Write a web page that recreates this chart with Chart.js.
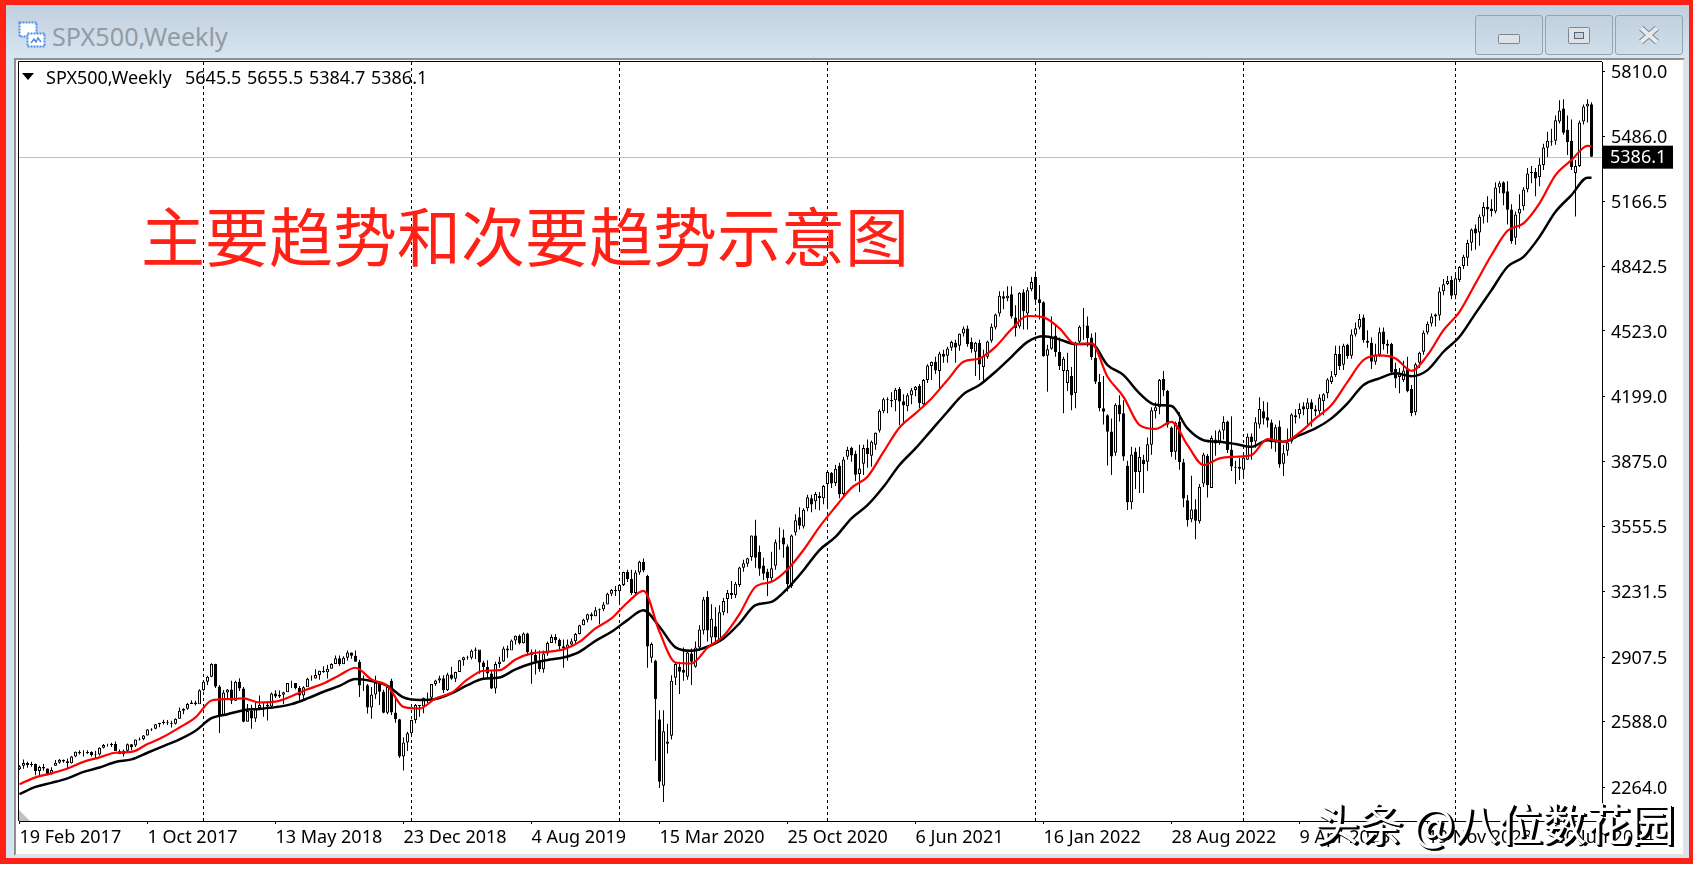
<!DOCTYPE html>
<html>
<head>
<meta charset="utf-8">
<title>SPX500,Weekly</title>
<script src="https://cdn.jsdelivr.net/npm/chart.js@4/dist/chart.umd.js"></script>
<style>
html, body { margin: 0; padding: 0; background: #fff; overflow: hidden; }
#page { position: relative; width: 1697px; height: 871px; overflow: hidden; background: #fff; }
#page div, #page span, #page svg, #page canvas { position: absolute; }
#redframe { left: 0; top: 0; width: 1683px; height: 853px; border: solid #ff2116; border-width: 5px 4px 6px 6px; background: #d6e4f1; }
#titlebar { left: 6px; top: 5px; width: 1683px; height: 54px; background: linear-gradient(#c1cfde, #d8e5f2); }
#client { left: 14px; top: 58px; width: 1667px; height: 794px; background: #fff; border: solid; border-color: #8f8f8f #e2e2e2 #e2e2e2 #8f8f8f; border-width: 2px 2px 2px 2px; }
.btn { top: 15px; width: 66px; height: 38px; border: 1px solid #93a4b6; border-radius: 3px; background: linear-gradient(#c3d1df, #d0deeb); }
#wintitle { left: 52px; top: 19px; font: 25.2px "Noto Sans", sans-serif; color: #939ba3; white-space: nowrap; }
.mt { font: 18px "Noto Sans", sans-serif; color: #000; white-space: nowrap; top: 65px; }
#tri { left: 22px; top: 73px; width: 0; height: 0; border-left: 6px solid transparent; border-right: 6px solid transparent; border-top: 7px solid #000; }
#heading { left: 141px; top: 187px; font: 64px "Noto Sans CJK SC", sans-serif; color: #ff2116; white-space: nowrap; }
#mark { left: 1315px; top: 790px; font: 44px "Noto Sans CJK SC", sans-serif; color: #fff; white-space: nowrap; text-shadow: 1px 1px 0 #000, 2px 2px 0 #000, 3px 2px 0 #000; }
#corner { left: 19px; top: 810px; width: 11px; height: 11px; background: #c0c0c0; clip-path: polygon(0 0, 100% 100%, 0 100%); }
</style>
</head>
<body>
<div id="page">
  <div id="redframe"></div>
  <div id="titlebar"></div>
  <svg style="left:18px;top:21px" width="29" height="28">
    <rect x="1.5" y="1.5" width="17" height="14" fill="#fff" stroke="#4f8fe8" stroke-width="2" stroke-dasharray="2 1"/>
    <rect x="9.5" y="12.5" width="17" height="13" fill="#fff" stroke="#4f8fe8" stroke-width="2" stroke-dasharray="2 1"/>
    <path d="M13 22 l3 -4 l2 3 l2 -4 l3 4" fill="none" stroke="#4f8fe8" stroke-width="1.5"/>
  </svg>
  <div id="wintitle">SPX500,Weekly</div>
  <div class="btn" style="left:1475px"></div>
  <div class="btn" style="left:1545px"></div>
  <div class="btn" style="left:1615px"></div>
  <svg style="left:1497px;top:33px" width="24" height="12"><rect x="1.5" y="1.5" width="21" height="9" rx="1" fill="#dfe3e8" stroke="#7d8792"/></svg>
  <svg style="left:1567px;top:26px" width="24" height="19"><rect x="1.5" y="1.5" width="21" height="16" rx="1" fill="#dfe3e8" stroke="#7d8792"/><rect x="7.5" y="6.5" width="9" height="6" fill="#c5d3e1" stroke="#5d6772"/></svg>
  <svg style="left:1637px;top:25px" width="24" height="20"><path d="M4 3 L20 17 M20 3 L4 17" stroke="#7d8792" stroke-width="6"/><path d="M4 3 L20 17 M20 3 L4 17" stroke="#e6e9ee" stroke-width="4"/></svg>
  <div id="client"></div>
  <div id="corner"></div>
  <canvas id="price_graph" width="1697" height="871" style="left:0;top:0;width:1697px;height:871px"></canvas>
  <div id="tri"></div>
  <div class="mt" style="left:46px">SPX500,Weekly</div>
  <div class="mt" style="left:185px;word-spacing:1px">5645.5 5655.5 5384.7 5386.1</div>
  <div id="heading">主要趋势和次要趋势示意图</div>
  <div id="mark">头条 @八位数花园</div>
</div>
<script>
// weekly candles, bar 0 is the week of 19 Feb 2017
const opens = [
  2352,2370,2383,2373,2378,2344,2363,2356,2330,2370,
  2384,2399,2392,2382,2416,2439,2432,2433,2438,2423,
  2425,2459,2473,2472,2477,2441,2426,2444,2476,2470,
  2500,2502,2519,2549,2553,2575,2581,2588,2582,2578,
  2602,2642,2652,2675,2683,2674,2743,2786,2810,2873,
  2762,2620,2732,2747,2691,2786,2752,2588,2641,2604,
  2656,2670,2670,2663,2728,2713,2721,2734,2779,2780,
  2755,2718,2759,2801,2802,2819,2840,2833,2850,2874,
  2902,2872,2905,2930,2914,2885,2767,2768,2658,2723,
  2781,2736,2632,2790,2633,2600,2416,2485,2531,2596,
  2670,2664,2706,2707,2775,2792,2803,2743,2822,2800,
  2834,2892,2907,2905,2939,2945,2881,2859,2826,2752,
  2873,2886,2950,2941,2990,3013,2976,3025,2932,2918,
  2888,2847,2926,2978,3007,2992,2961,2952,2970,2986,
  3022,3066,3093,3120,3110,3140,3145,3168,3221,3240,
  3234,3265,3329,3295,3225,3327,3380,3310,2905,2890,
  2600,2270,2478,2518,2805,2860,2845,2810,2925,2860,
  2955,3040,3205,3005,3060,2990,3130,3195,3225,3215,
  3265,3350,3370,3403,3510,3430,3362,3330,3298,3360,
  3480,3500,3456,3260,3525,3600,3555,3645,3695,3680,
  3705,3695,3765,3820,3770,3855,3715,3900,3945,3915,
  3815,3865,3945,3905,3960,4030,4125,4185,4175,4180,
  4235,4175,4150,4205,4230,4250,4160,4280,4350,4370,
  4325,4410,4400,4440,4465,4450,4510,4535,4470,4420,
  4465,4345,4395,4475,4540,4610,4695,4685,4705,4590,
  4545,4715,4610,4730,4790,4680,4665,4400,4435,4500,
  4420,4325,4265,4300,4215,4470,4550,4550,4490,4390,
  4270,4140,4105,4025,3920,4158,4115,3855,3675,3925,
  3825,3885,3875,3960,4125,4145,4285,4225,4045,3925,
  4075,3873,3685,3590,3640,3580,3768,3905,3745,3985,
  3975,4030,4075,3935,3850,3850,3835,3885,4000,3975,
  4060,4125,4095,4070,3970,4050,3865,3930,3975,4095,
  4110,4150,4135,4170,4135,4125,4175,4215,4270,4305,
  4410,4355,4455,4400,4505,4540,4590,4475,4465,4370,
  4405,4520,4460,4460,4335,4295,4280,4335,4235,4120,
  4365,4420,4515,4560,4595,4600,4720,4755,4775,4700,
  4775,4845,4885,4960,5030,5010,5090,5137,5130,5115,
  5235,5260,5215,5125,4985,5105,5140,5225,5310,5310,
  5285,5345,5430,5465,5465,5560,5625,5520,5465,5305,
  5340,5560,5635,5645.5
];
const highs = [
  2372,2401,2390,2390,2381,2370,2378,2356,2362,2398,
  2403,2400,2405,2418,2440,2447,2447,2447,2442,2444,
  2461,2477,2478,2484,2490,2450,2450,2480,2477,2500,
  2509,2522,2552,2555,2576,2582,2597,2596,2593,2605,
  2658,2655,2680,2694,2692,2748,2790,2815,2877,2875,
  2770,2745,2750,2790,2790,2803,2760,2675,2672,2680,
  2717,2683,2680,2732,2743,2742,2736,2779,2790,2775,
  2764,2763,2805,2816,2848,2840,2863,2870,2877,2916,
  2916,2912,2940,2931,2940,2895,2817,2775,2760,2815,
  2775,2746,2760,2800,2708,2602,2510,2538,2597,2675,
  2670,2708,2732,2775,2795,2815,2818,2830,2860,2835,
  2895,2910,2915,2945,2955,2930,2890,2892,2840,2885,
  2910,2960,2965,2995,3015,3020,3030,3028,2945,2945,
  2940,2940,2985,3020,3022,3000,2995,2995,3000,3027,
  3068,3098,3122,3128,3156,3148,3180,3226,3245,3260,
  3268,3330,3340,3340,3338,3385,3396,3315,2980,2895,
  2645,2645,2578,2818,2880,2885,2955,2935,2950,2985,
  3065,3205,3235,3170,3155,3165,3200,3240,3285,3280,
  3355,3390,3400,3510,3588,3460,3400,3345,3430,3490,
  3550,3540,3465,3515,3615,3650,3645,3712,3712,3726,
  3725,3760,3825,3825,3860,3870,3900,3950,3950,3930,
  3960,3960,3985,3980,4020,4135,4192,4195,4220,4240,
  4245,4210,4215,4240,4250,4260,4285,4358,4372,4395,
  4420,4430,4445,4475,4480,4510,4545,4550,4490,4470,
  4480,4430,4475,4560,4610,4720,4720,4745,4745,4650,
  4715,4730,4740,4790,4818,4750,4670,4455,4595,4555,
  4490,4395,4415,4345,4470,4550,4637,4595,4510,4515,
  4310,4300,4110,4090,4165,4205,4180,3880,3950,3945,
  3950,3910,3995,4145,4170,4285,4325,4230,4050,4075,
  4120,3890,3710,3806,3690,3765,3920,3913,4005,4030,
  4035,4100,4078,4100,3880,3895,3910,4015,4015,4095,
  4195,4175,4170,4085,4060,4080,3960,4040,4115,4135,
  4165,4170,4190,4185,4155,4210,4215,4290,4325,4450,
  4450,4460,4460,4530,4565,4607,4605,4527,4490,4460,
  4540,4540,4480,4465,4365,4340,4375,4395,4255,4365,
  4420,4525,4570,4610,4610,4740,4780,4795,4795,4800,
  4845,4900,4975,5030,5050,5100,5160,5190,5175,5260,
  5265,5265,5265,5150,5115,5200,5235,5330,5340,5330,
  5380,5450,5510,5525,5590,5665,5670,5590,5570,5370,
  5565,5645,5670,5655.5
];
const lows = [
  2348,2355,2360,2365,2322,2322,2345,2322,2325,2370,
  2380,2385,2352,2381,2412,2425,2415,2428,2415,2408,
  2420,2455,2465,2462,2470,2430,2416,2441,2446,2462,
  2495,2496,2520,2542,2550,2560,2574,2572,2559,2574,
  2602,2625,2647,2675,2668,2680,2738,2770,2808,2755,
  2532,2620,2700,2675,2690,2740,2585,2590,2553,2586,
  2650,2612,2594,2655,2705,2705,2675,2735,2755,2748,
  2691,2698,2770,2790,2800,2795,2830,2802,2853,2880,
  2864,2874,2890,2900,2885,2710,2740,2628,2603,2700,
  2670,2630,2625,2621,2583,2408,2346,2443,2525,2580,
  2612,2630,2680,2700,2765,2780,2730,2740,2795,2785,
  2838,2865,2895,2896,2898,2825,2800,2805,2750,2728,
  2855,2885,2905,2950,2970,2970,2975,2915,2776,2822,
  2835,2830,2915,2980,2975,2940,2855,2890,2960,2978,
  3020,3066,3080,3090,3110,3070,3135,3170,3210,3210,
  3180,3260,3280,3215,3215,3315,3328,2855,2880,2395,
  2260,2190,2430,2500,2770,2725,2790,2795,2770,2855,
  2940,3020,2985,2965,2980,2985,3115,3125,3195,3200,
  3255,3330,3355,3385,3350,3310,3290,3210,3280,3340,
  3440,3400,3233,3250,3510,3540,3545,3630,3625,3640,
  3635,3665,3650,3745,3755,3695,3705,3885,3875,3780,
  3725,3810,3845,3850,3935,4020,4115,4115,4145,4125,
  4056,4060,4125,4160,4200,4140,4155,4265,4280,4310,
  4235,4365,4365,4425,4365,4425,4495,4445,4415,4300,
  4280,4275,4385,4465,4530,4595,4630,4670,4585,4495,
  4535,4530,4530,4720,4660,4580,4395,4222,4430,4395,
  4330,4115,4225,4130,4140,4455,4480,4445,4380,4260,
  4125,4060,3857,3810,3905,4075,3880,3636,3640,3740,
  3720,3721,3830,3910,4090,4110,4200,4045,3900,3885,
  3835,3650,3555,3575,3491,3570,3750,3698,3745,3905,
  3960,3985,3918,3830,3765,3785,3795,3885,3885,3945,
  4040,4060,4045,3940,3925,3845,3805,3905,3965,4065,
  4090,4105,4060,4050,4100,4100,4105,4190,4260,4295,
  4330,4330,4385,4385,4495,4530,4465,4440,4335,4355,
  4395,4430,4410,4305,4240,4215,4270,4220,4100,4105,
  4340,4405,4505,4545,4545,4575,4700,4750,4680,4680,
  4765,4830,4845,4920,4925,4945,5055,5060,5090,5105,
  5205,5145,5050,4955,4950,5030,5120,5210,5255,5190,
  5240,5320,5385,5440,5445,5550,5495,5395,5320,5090,
  5335,5545,5555,5384.7
];
const closes = [
  2367,2383,2372,2378,2344,2363,2356,2329,2349,2384,
  2399,2391,2382,2416,2439,2432,2433,2438,2423,2425,
  2459,2473,2472,2477,2441,2426,2444,2476,2461,2500,
  2502,2519,2549,2553,2575,2581,2588,2582,2578,2602,
  2642,2652,2675,2683,2674,2743,2786,2810,2873,2762,
  2620,2732,2747,2691,2786,2752,2588,2641,2604,2656,
  2670,2670,2663,2728,2713,2721,2734,2779,2780,2755,
  2718,2759,2801,2802,2819,2840,2833,2850,2874,2902,
  2872,2905,2930,2914,2885,2767,2768,2658,2723,2781,
  2736,2632,2760,2633,2600,2416,2485,2531,2596,2670,
  2664,2706,2707,2775,2792,2803,2743,2822,2800,2834,
  2892,2907,2905,2939,2945,2881,2859,2826,2752,2873,
  2886,2950,2941,2990,3013,2976,3025,2932,2918,2888,
  2847,2926,2978,3007,2992,2961,2952,2970,2986,3022,
  3066,3093,3120,3110,3140,3145,3168,3221,3240,3234,
  3265,3329,3295,3225,3327,3380,3337,2960,2972,2700,
  2290,2540,2490,2790,2873,2835,2830,2930,2885,2955,
  3044,3193,3040,3098,3005,3130,3185,3225,3215,3271,
  3351,3373,3397,3510,3400,3345,3320,3298,3348,3477,
  3484,3465,3270,3510,3585,3558,3638,3699,3663,3715,
  3695,3755,3824,3768,3841,3714,3886,3934,3906,3811,
  3842,3943,3913,3974,4019,4128,4185,4180,4181,4232,
  4173,4155,4204,4229,4247,4166,4280,4352,4369,4327,
  4411,4395,4436,4468,4441,4509,4535,4458,4432,4465,
  4357,4400,4471,4544,4605,4697,4682,4697,4594,4538,
  4712,4620,4725,4766,4677,4662,4398,4432,4490,4419,
  4349,4385,4329,4204,4463,4544,4546,4488,4393,4272,
  4140,4123,4024,3901,4158,4110,3901,3675,3911,3825,
  3899,3863,3962,4130,4145,4280,4228,4058,3924,4067,
  3873,3693,3586,3639,3583,3752,3911,3760,3993,3965,
  4026,4072,3934,3852,3845,3840,3895,3999,3972,4071,
  4136,4090,4079,3970,4046,3862,3917,3971,4109,4105,
  4137,4134,4169,4136,4124,4192,4210,4282,4299,4409,
  4348,4450,4399,4505,4536,4582,4478,4464,4370,4406,
  4516,4457,4450,4320,4288,4309,4327,4224,4117,4358,
  4415,4514,4559,4595,4604,4719,4754,4770,4697,4784,
  4840,4891,4958,5026,5006,5089,5137,5124,5117,5234,
  5254,5204,5123,4967,5100,5128,5223,5303,5305,5278,
  5347,5431,5465,5460,5567,5615,5505,5459,5335,5340,
  5555,5635,5648,5386.1
];

// moving averages, one reading every 4th bar and the last bar
const redBars = [
  0,4,8,12,16,20,24,28,32,36,40,44,48,52,56,60,64,68,72,76,
  80,84,88,92,96,100,104,108,112,116,120,124,128,132,136,140,144,148,152,156,
  160,164,168,172,176,180,184,188,192,196,200,204,208,212,216,220,224,228,232,236,
  240,244,248,252,256,260,264,268,272,276,280,284,288,292,296,300,304,308,312,316,
  320,324,328,332,336,340,344,348,352,356,360,364,368,372,376,380,384,388,392,393
];
const redLine = [
  2278,2312,2332,2356,2389,2411,2434,2438,2477,2513,
  2559,2609,2693,2700,2703,2683,2687,2714,2748,2777,
  2818,2855,2797,2765,2661,2653,2703,2731,2797,2840,
  2843,2896,2926,2934,2946,2983,3050,3099,3178,3236,
  3033,2881,2876,2954,3012,3121,3256,3281,3342,3438,
  3553,3652,3746,3801,3924,4045,4115,4189,4280,4370,
  4387,4444,4532,4597,4590,4536,4458,4461,4296,4197,
  4057,4038,4073,3958,3859,3892,3900,3908,3987,3974,
  4019,4090,4156,4271,4379,4402,4387,4326,4403,4527,
  4618,4758,4899,5019,5056,5155,5295,5369,5440,5438
];
const blackLine = [
  2229,2265,2285,2307,2339,2361,2388,2401,2434,2467,
  2500,2543,2605,2625,2645,2651,2660,2675,2703,2736,
  2765,2799,2789,2765,2708,2695,2700,2728,2769,2800,
  2807,2847,2876,2893,2906,2934,2988,3033,3091,3140,
  3058,2956,2939,2959,3000,3075,3165,3181,3248,3338,
  3438,3503,3595,3660,3751,3859,3941,4032,4123,4210,
  4255,4321,4395,4469,4497,4481,4458,4458,4354,4304,
  4214,4157,4151,4040,3982,3974,3963,3949,3982,3974,
  4007,4040,4090,4164,4255,4288,4313,4299,4329,4420,
  4494,4610,4725,4841,4890,4989,5113,5196,5282,5282
];

const xTickBars = [0,32,64,96,128,160,192,224,256,288,320,352,384];
const xTickLabels = ['19 Feb 2017','1 Oct 2017','13 May 2018','23 Dec 2018','4 Aug 2019','15 Mar 2020','25 Oct 2020','6 Jun 2021','16 Jan 2022','28 Aug 2022','9 Apr 2023','19 Nov 2023','30 Jun 2024'];
const yTicks = [5810.0,5486.0,5166.5,4842.5,4523.0,4199.0,3875.0,3555.5,3231.5,2907.5,2588.0,2264.0];
const separatorBars = [46,98,150,202,254,306,359];
const lastPrice = 5386.1;

const tickFont = { family: '"Noto Sans", sans-serif', size: 18 };

// dashed period separators go under the candles
const separators = {
    id: 'separators',
    beforeDatasetsDraw(chart) {
        const c = chart.ctx, a = chart.chartArea, x = chart.scales.x;
        c.save();
        c.strokeStyle = '#000';
        c.lineWidth = 1;
        c.setLineDash([3, 3]);
        separatorBars.forEach(b => {
            c.beginPath();
            c.moveTo(x.getPixelForValue(b), a.top);
            c.lineTo(x.getPixelForValue(b), a.bottom);
            c.stroke();
        });
        c.setLineDash([]);
        c.strokeStyle = '#c0c0c0';
        const y = Math.round(chart.scales.y.getPixelForValue(lastPrice)) + 0.5;
        c.beginPath();
        c.moveTo(a.left, y);
        c.lineTo(a.right, y);
        c.stroke();
        c.restore();
    },
    afterDraw(chart) {
        const c = chart.ctx, a = chart.chartArea;
        const y = chart.scales.y.getPixelForValue(lastPrice);
        c.save();
        c.strokeStyle = '#000';
        c.lineWidth = 1;
        c.beginPath();
        c.moveTo(a.left - 0.5, a.bottom);
        c.lineTo(a.left - 0.5, a.top - 0.5);
        c.lineTo(a.right, a.top - 0.5);
        c.stroke();
        c.fillStyle = '#000';
        c.fillRect(a.right + 1, y - 11, 70, 23);
        c.fillStyle = '#fff';
        c.font = '18px "Noto Sans", sans-serif';
        c.textBaseline = 'middle';
        c.fillText(lastPrice.toFixed(1), a.right + 8, y + 1.5);
        c.restore();
    }
};

const ctx = document.getElementById('price_graph').getContext('2d');

const price_graph = new Chart(ctx, {
    type: 'bar',
    data: {
        datasets: [{
            label: 'wick',
            data: highs.map((h, i) => ({ x: i, y: [lows[i], h] })),
            backgroundColor: '#000',
            barThickness: 1,
            inflateAmount: 0,
            grouped: false,
            order: 4,
        }, {
            label: 'body',
            data: opens.map((o, i) => ({ x: i, y: [Math.min(o, closes[i]), Math.max(o, closes[i])] })),
            backgroundColor: opens.map((o, i) => closes[i] < o ? '#000' : '#fff'),
            borderColor: '#000',
            borderWidth: 1,
            borderSkipped: false,
            barThickness: 3,
            inflateAmount: 0,
            grouped: false,
            order: 3,
        }, {
            type: 'line',
            label: 'black',
            data: blackLine.map((v, k) => ({ x: redBars[k], y: v })),
            borderColor: '#000',
            borderWidth: 2.5,
            pointRadius: 0,
            cubicInterpolationMode: 'monotone',
            order: 2,
        }, {
            type: 'line',
            label: 'red',
            data: redLine.map((v, k) => ({ x: redBars[k], y: v })),
            borderColor: '#ff0000',
            borderWidth: 2.2,
            pointRadius: 0,
            cubicInterpolationMode: 'monotone',
            order: 1,
        }]
    },
    options: {
        responsive: false,
        animation: false,
        devicePixelRatio: 1,
        layout: { autoPadding: false, padding: { left: 19, top: 62 } },
        plugins: { legend: { display: false }, tooltip: { enabled: false } },
        scales: {
            x: {
                type: 'linear',
                offset: false,
                min: -0.125,
                max: 395.625,
                afterBuildTicks: s => { s.ticks = xTickBars.map(v => ({ value: v })); },
                afterFit: s => { s.height = 50; },
                border: { color: '#000', width: 1 },
                grid: { drawOnChartArea: false, offset: false, color: '#000', tickLength: 3 },
                ticks: {
                    autoSkip: false,
                    maxRotation: 0,
                    align: 'start',
                    padding: 3,
                    color: '#000',
                    font: tickFont,
                    callback: v => xTickLabels[xTickBars.indexOf(v)],
                },
            },
            y: {
                type: 'linear',
                position: 'right',
                min: 2096,
                max: 5855,
                afterBuildTicks: s => { s.ticks = yTicks.map(v => ({ value: v })); },
                afterFit: s => { s.width = 95; },
                border: { color: '#000', width: 1 },
                grid: { drawOnChartArea: false, color: '#000', tickLength: 3 },
                ticks: {
                    autoSkip: false,
                    padding: 6,
                    labelOffset: 1.5,
                    color: '#000',
                    font: tickFont,
                    callback: v => v.toFixed(1),
                },
            },
        },
    },
    plugins: [separators],
});
</script>
</body>
</html>
